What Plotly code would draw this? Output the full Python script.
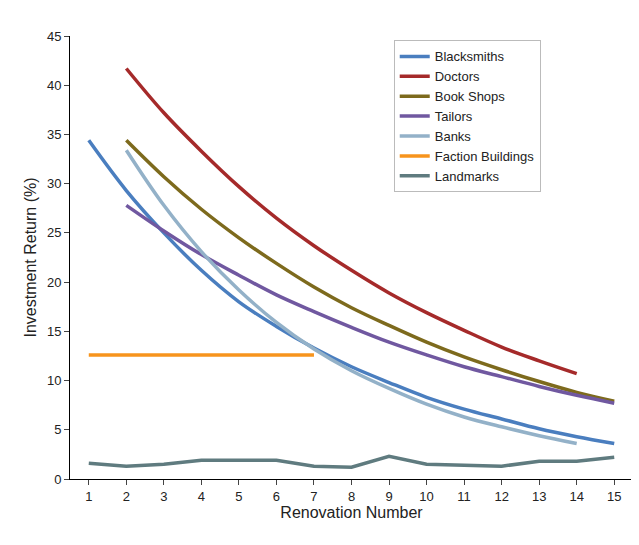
import plotly.graph_objects as go

renovations = list(range(1, 16))
blacksmiths = [34.4, 29.3, 25.0, 21.2, 18.0, 15.5, 13.3, 11.4, 9.8, 8.3, 7.1, 6.1, 5.1, 4.3, 3.6]
doctors = [41.7, 37.2, 33.3, 29.7, 26.5, 23.7, 21.2, 18.9, 16.9, 15.1, 13.4, 12.0, 10.7]
book_shops = [34.4, 30.7, 27.4, 24.5, 21.9, 19.5, 17.4, 15.6, 13.9, 12.4, 11.1, 9.9, 8.8, 7.9]
tailors = [27.8, 25.2, 22.8, 20.7, 18.7, 17.0, 15.4, 13.9, 12.6, 11.4, 10.4, 9.4, 8.5, 7.7]
banks = [33.4, 27.8, 23.1, 19.2, 15.9, 13.2, 11.0, 9.2, 7.6, 6.3, 5.3, 4.4, 3.6]
faction = [12.6] * 7
landmarks = [1.6, 1.3, 1.5, 1.9, 1.9, 1.9, 1.3, 1.2, 2.3, 1.5, 1.4, 1.3, 1.8, 1.8, 2.2]

series = [
    ("Blacksmiths", renovations, blacksmiths, "#4a7ebf", "spline"),
    ("Doctors", renovations[1:14], doctors, "#a52a2a", "spline"),
    ("Book Shops", renovations[1:], book_shops, "#7d6a1d", "spline"),
    ("Tailors", renovations[1:], tailors, "#7058a0", "spline"),
    ("Banks", renovations[1:14], banks, "#93b1c8", "spline"),
    ("Faction Buildings", renovations[:7], faction, "#f7941d", "linear"),
    ("Landmarks", renovations, landmarks, "#5f7b7f", "linear"),
]

fig = go.Figure()
for name, xs, ys, col, shape in series:
    fig.add_trace(go.Scatter(x=xs, y=ys, name=name, mode="lines",
                             line=dict(color=col, width=3.5, shape=shape)))

fig.update_layout(
    width=639, height=545,
    margin=dict(l=62, r=14, t=28, b=74),
    plot_bgcolor="white", paper_bgcolor="white",
    font=dict(family="Liberation Sans Narrow, Liberation Sans, sans-serif", size=13, color="#222"),
    xaxis=dict(title=dict(text="Renovation Number", standoff=4), range=[0.5, 15.5], tickvals=renovations,
               showline=True, linecolor="black", ticks="outside", showgrid=False, zeroline=False),
    yaxis=dict(title=dict(text="Investment Return (%)", standoff=6), range=[0, 45], dtick=5,
               showline=True, linecolor="black", ticks="outside", showgrid=False, zeroline=False),
    legend=dict(x=0.575, y=0.99, xanchor="left", yanchor="top", bordercolor="#bbb", borderwidth=1,
                bgcolor="white", font=dict(size=13), tracegroupgap=0),
)
fig.write_html("out.html")
